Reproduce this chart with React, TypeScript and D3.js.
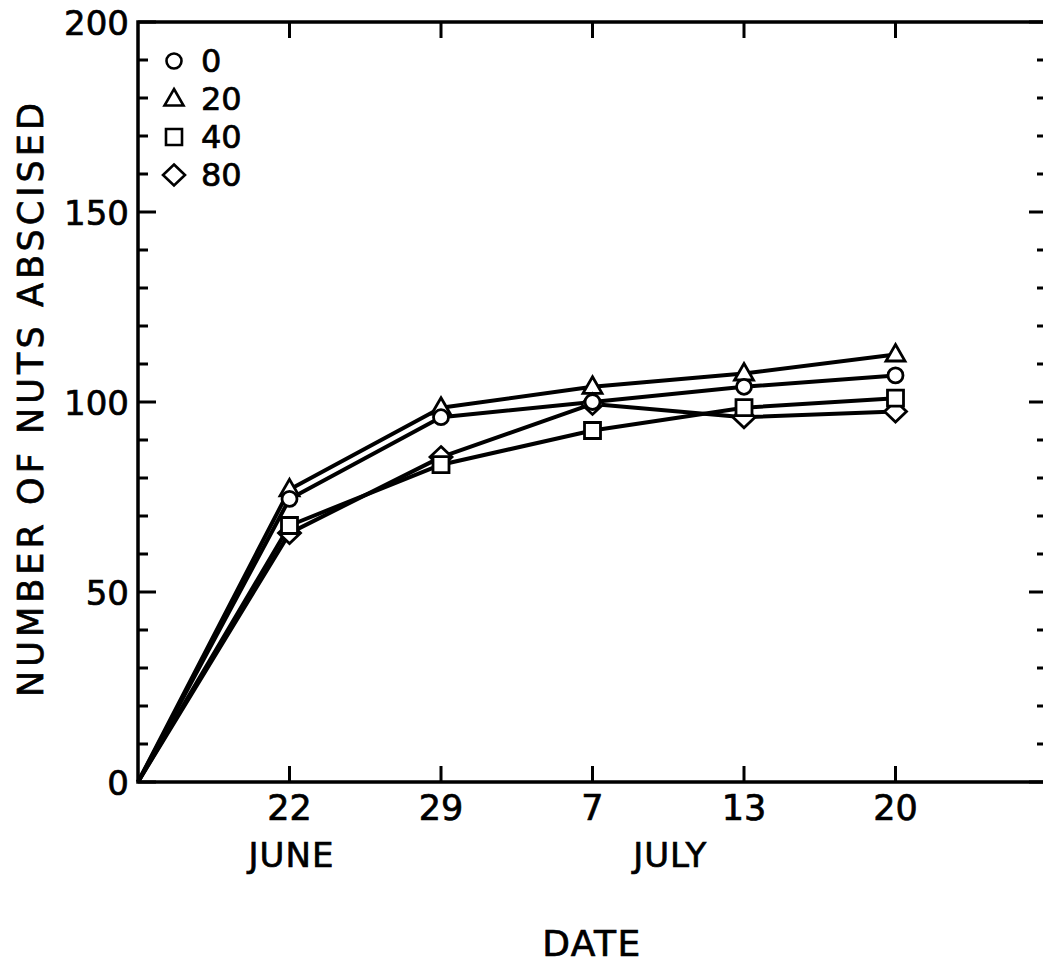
import * as d3 from 'd3';

// x positions: index 0 is the origin (unlabelled), then the sampling dates
const dateLabels = ['', '22', '29', '7', '13', '20'];
const monthLabels = [
  { label: 'JUNE', at: 1 },
  { label: 'JULY', at: 3.5 },
];

const seriesNames = ['0', '20', '40', '80'];
const circle0 = [0, 74.5, 96, 100, 104, 107];
const triangle20 = [0, 77, 98.5, 104, 107.5, 112.5];
const square40 = [0, 67.5, 83.5, 92.5, 98.5, 101];
const diamond80 = [0, 65.5, 85.5, 99.5, 96, 97.5];

const yMajor = [0, 50, 100, 150, 200];

const W = 1043;
const H = 967;
const FONT = 'DejaVu Sans, sans-serif';
// thin outline on the glyphs to get closer to the heavy lettering of the original
const INK = { fill: '#000', stroke: '#000', strokeWidth: 0.7 };

type Shape = 'circle' | 'triangle' | 'square' | 'diamond';

function markerPath(shape: Shape, cx: number, cy: number): string {
  const p = d3.path();
  if (shape === 'circle') {
    p.moveTo(cx + 7.5, cy);
    p.arc(cx, cy, 7.5, 0, Math.PI * 2);
  } else if (shape === 'triangle') {
    p.moveTo(cx, cy - 10);
    p.lineTo(cx + 9.5, cy + 6.5);
    p.lineTo(cx - 9.5, cy + 6.5);
    p.closePath();
  } else if (shape === 'square') {
    p.rect(cx - 8, cy - 8, 16, 16);
  } else {
    p.moveTo(cx, cy - 10.5);
    p.lineTo(cx + 11, cy);
    p.lineTo(cx, cy + 10.5);
    p.lineTo(cx - 11, cy);
    p.closePath();
  }
  return p.toString();
}

export default function App() {
  const x = d3.scaleLinear().domain([0, 6]).range([138, 1047]);
  const y = d3.scaleLinear().domain([0, 200]).range([782, 22]);

  // drawing order matters: later markers sit on top
  const series: { name: string; shape: Shape; values: number[] }[] = [
    { name: seriesNames[1], shape: 'triangle', values: triangle20 },
    { name: seriesNames[3], shape: 'diamond', values: diamond80 },
    { name: seriesNames[0], shape: 'circle', values: circle0 },
    { name: seriesNames[2], shape: 'square', values: square40 },
  ];
  const legendOrder: { name: string; shape: Shape }[] = [
    { name: seriesNames[0], shape: 'circle' },
    { name: seriesNames[1], shape: 'triangle' },
    { name: seriesNames[2], shape: 'square' },
    { name: seriesNames[3], shape: 'diamond' },
  ];

  const line = d3
    .line<number>()
    .x((_, i) => x(i))
    .y((d) => y(d));

  const minor = y.ticks(20).filter((t) => !yMajor.includes(t));
  const xTicks = d3.range(1, dateLabels.length);
  const [x0, x1] = x.range();
  const [yb, yt] = y.range();

  return (
    <div style={{ position: 'absolute', left: 0, top: 0 }}>
      <svg width={W} height={H} style={{ display: 'block', background: '#fff' }}>
        {/* frame */}
        <rect x={x0} y={yt} width={x1 - x0} height={yb - yt} fill="none" stroke="#000" strokeWidth={3.5} />

        {/* y ticks, inward on both sides */}
        {minor.map((t) => (
          <g key={`m${t}`} stroke="#000" strokeWidth={3}>
            <line x1={x0} x2={x0 + 10} y1={y(t)} y2={y(t)} />
            <line x1={x1} x2={x1 - 10} y1={y(t)} y2={y(t)} />
          </g>
        ))}
        {yMajor.map((t) => (
          <g key={`M${t}`}>
            <line x1={x0} x2={x0 + 18} y1={y(t)} y2={y(t)} stroke="#000" strokeWidth={3} />
            <line x1={x1} x2={x1 - 18} y1={y(t)} y2={y(t)} stroke="#000" strokeWidth={3} />
            <text x={x0 - 9} y={y(t) + 13} textAnchor="end" fontFamily={FONT} fontSize={34} {...INK}>
              {t}
            </text>
          </g>
        ))}

        {/* x ticks top and bottom */}
        {xTicks.map((i) => (
          <g key={`x${i}`} stroke="#000" strokeWidth={3}>
            <line x1={x(i)} x2={x(i)} y1={yb} y2={yb - 16} />
            <line x1={x(i)} x2={x(i)} y1={yt} y2={yt + 16} />
          </g>
        ))}
        {xTicks.map((i) => (
          <text key={`xl${i}`} x={x(i)} y={820} textAnchor="middle" fontFamily={FONT} fontSize={35} {...INK}>
            {dateLabels[i]}
          </text>
        ))}
        {monthLabels.map((m) => (
          <text key={m.label} x={x(m.at) + 2} y={867} textAnchor="middle" fontFamily={FONT} fontSize={34} letterSpacing={1} {...INK}>
            {m.label}
          </text>
        ))}
        <text x={592} y={956} textAnchor="middle" fontFamily={FONT} fontSize={36} letterSpacing={1.5} {...INK}>
          DATE
        </text>
        <text
          transform={`translate(43, ${400}) rotate(-90)`}
          textAnchor="middle"
          fontFamily={FONT}
          fontSize={35}
          textLength={594}
          lengthAdjust="spacing"
          {...INK}
        >
          NUMBER OF NUTS ABSCISED
        </text>

        {/* lines */}
        {series.map((s) => (
          <path key={`l${s.name}`} d={line(s.values) ?? ''} fill="none" stroke="#000" strokeWidth={4} strokeLinejoin="round" />
        ))}
        {/* markers */}
        {series.map((s) =>
          s.values.slice(1).map((v, j) => (
            <path
              key={`p${s.name}-${j}`}
              d={markerPath(s.shape, x(j + 1), y(v))}
              fill="#fff"
              stroke="#000"
              strokeWidth={2.8}
            />
          )),
        )}

        {/* legend */}
        {legendOrder.map((s, i) => (
          <g key={`lg${s.name}`}>
            <path d={markerPath(s.shape, 174, 61 + i * 38)} fill="#fff" stroke="#000" strokeWidth={2.6} />
            <text x={201} y={72 + i * 38} fontFamily={FONT} fontSize={32} {...INK}>
              {s.name}
            </text>
          </g>
        ))}
      </svg>
    </div>
  );
}
